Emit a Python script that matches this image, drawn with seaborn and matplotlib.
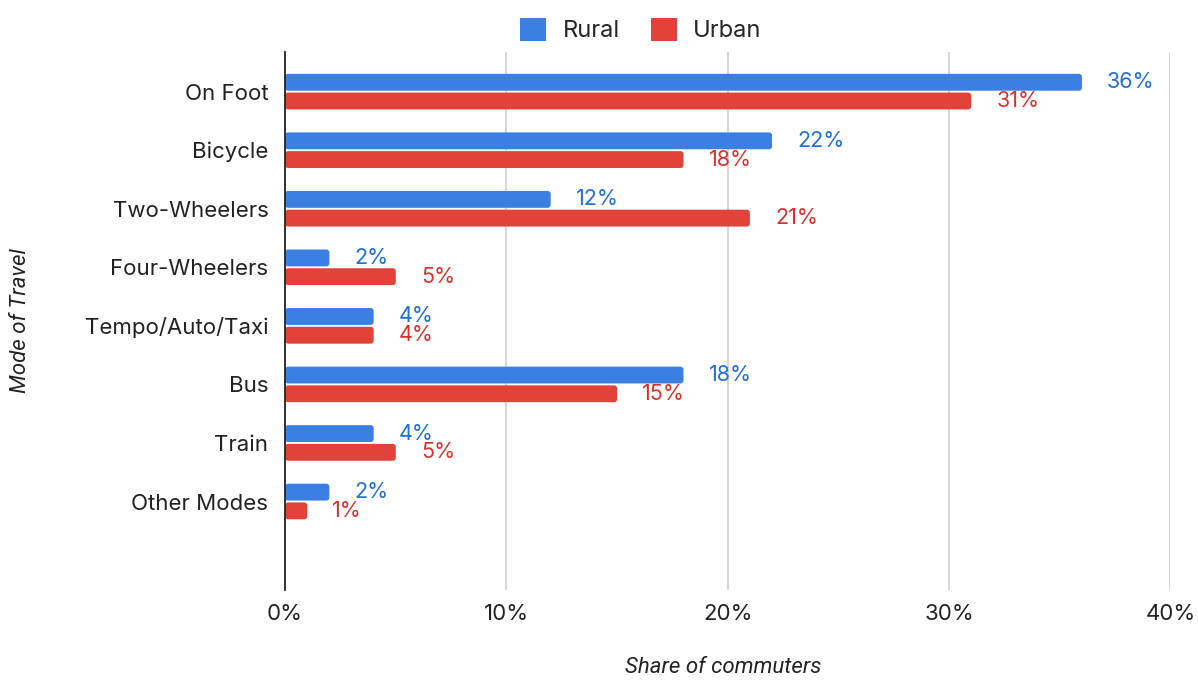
import matplotlib
matplotlib.use("Agg")
import matplotlib.pyplot as plt
import seaborn as sns
import pandas as pd
from matplotlib.patches import Patch, FancyBboxPatch
from matplotlib.ticker import FuncFormatter

categories = ["On Foot", "Bicycle", "Two-Wheelers", "Four-Wheelers",
              "Tempo/Auto/Taxi", "Bus", "Train", "Other Modes"]
rural = [36, 22, 12, 2, 4, 18, 4, 2]
urban = [31, 18, 21, 5, 4, 15, 5, 1]
series = ["Rural", "Urban"]
x_ticks = [0, 10, 20, 30, 40]

df = pd.DataFrame({
    "Mode": categories * 2,
    "Share": rural + urban,
    "Area": ["Rural"] * len(categories) + ["Urban"] * len(categories),
})

sns.set_theme(style="white")
plt.rcParams["font.family"] = ["Inter", "DejaVu Sans"]

bar_colors = {"Rural": "#3b7fe3", "Urban": "#e3423a"}
text_colors = {"Rural": "#1f6fd8", "Urban": "#d8322a"}

fig = plt.figure(figsize=(11.98, 6.82), dpi=100)
ax = fig.add_axes([0.238, 0.135, 0.739, 0.789])

sns.barplot(data=df, y="Mode", x="Share", hue="Area", order=categories,
            hue_order=series, palette=bar_colors, orient="h",
            width=0.64, gap=0.1, legend=False, ax=ax, saturation=1)

ax.set_xlim(0, 40)
ax.set_ylim(8.51, -0.68)

for cont, name in zip(ax.containers, series):
    ax.bar_label(cont, labels=[f"{v:g}%" for v in cont.datavalues],
                 padding=18, color=text_colors[name], fontsize=15.5)

# rounded bar ends
px_x = 885 / 40.0
px_y = 538 / 9.19
r = 3.0
for cont in ax.containers:
    for p in cont.patches:
        x0, y0 = p.get_x(), p.get_y()
        w, h = p.get_width(), p.get_height()
        fb = FancyBboxPatch((x0, y0), w, h,
                            boxstyle=f"round,pad=0,rounding_size={r / px_x}",
                            mutation_aspect=(r / px_y) / (r / px_x),
                            facecolor=p.get_facecolor(), edgecolor="none",
                            zorder=p.get_zorder())
        p.set_visible(False)
        ax.add_patch(fb)

ax.set_xticks(x_ticks)
ax.xaxis.set_major_formatter(FuncFormatter(lambda v, p: f"{v:g}%"))
ax.grid(axis="x", color="#cfcfcf", linewidth=1.2)
ax.grid(axis="y", visible=False)
ax.set_axisbelow(True)
for s in ["top", "right", "bottom"]:
    ax.spines[s].set_visible(False)
ax.spines["left"].set_color("#222222")
ax.spines["left"].set_linewidth(1.3)
ax.spines["left"].set_zorder(5)
ax.tick_params(axis="both", length=0, labelsize=16, colors="#222222")
ax.tick_params(axis="x", pad=10)
ax.tick_params(axis="y", pad=12)

ax.set_xlabel("Share of commuters", fontsize=16, style="italic",
              family=["Roboto", "DejaVu Sans"], color="#222222")
ax.set_ylabel("Mode of Travel", fontsize=16, style="italic",
              family=["Roboto", "DejaVu Sans"], color="#222222")
ax.xaxis.set_label_coords(0.495, -0.124)
ax.yaxis.set_label_coords(-0.287, 0.5)

handles = [Patch(facecolor=bar_colors[s], edgecolor="none", label=s) for s in series]
fig.legend(handles=handles, loc="upper center", bbox_to_anchor=(0.535, 1.005),
           ncol=2, frameon=False, fontsize=17, handlelength=1.1,
           handleheight=1.1, columnspacing=1.3, handletextpad=0.7)

fig.savefig("out.png", dpi=100, facecolor="white")
